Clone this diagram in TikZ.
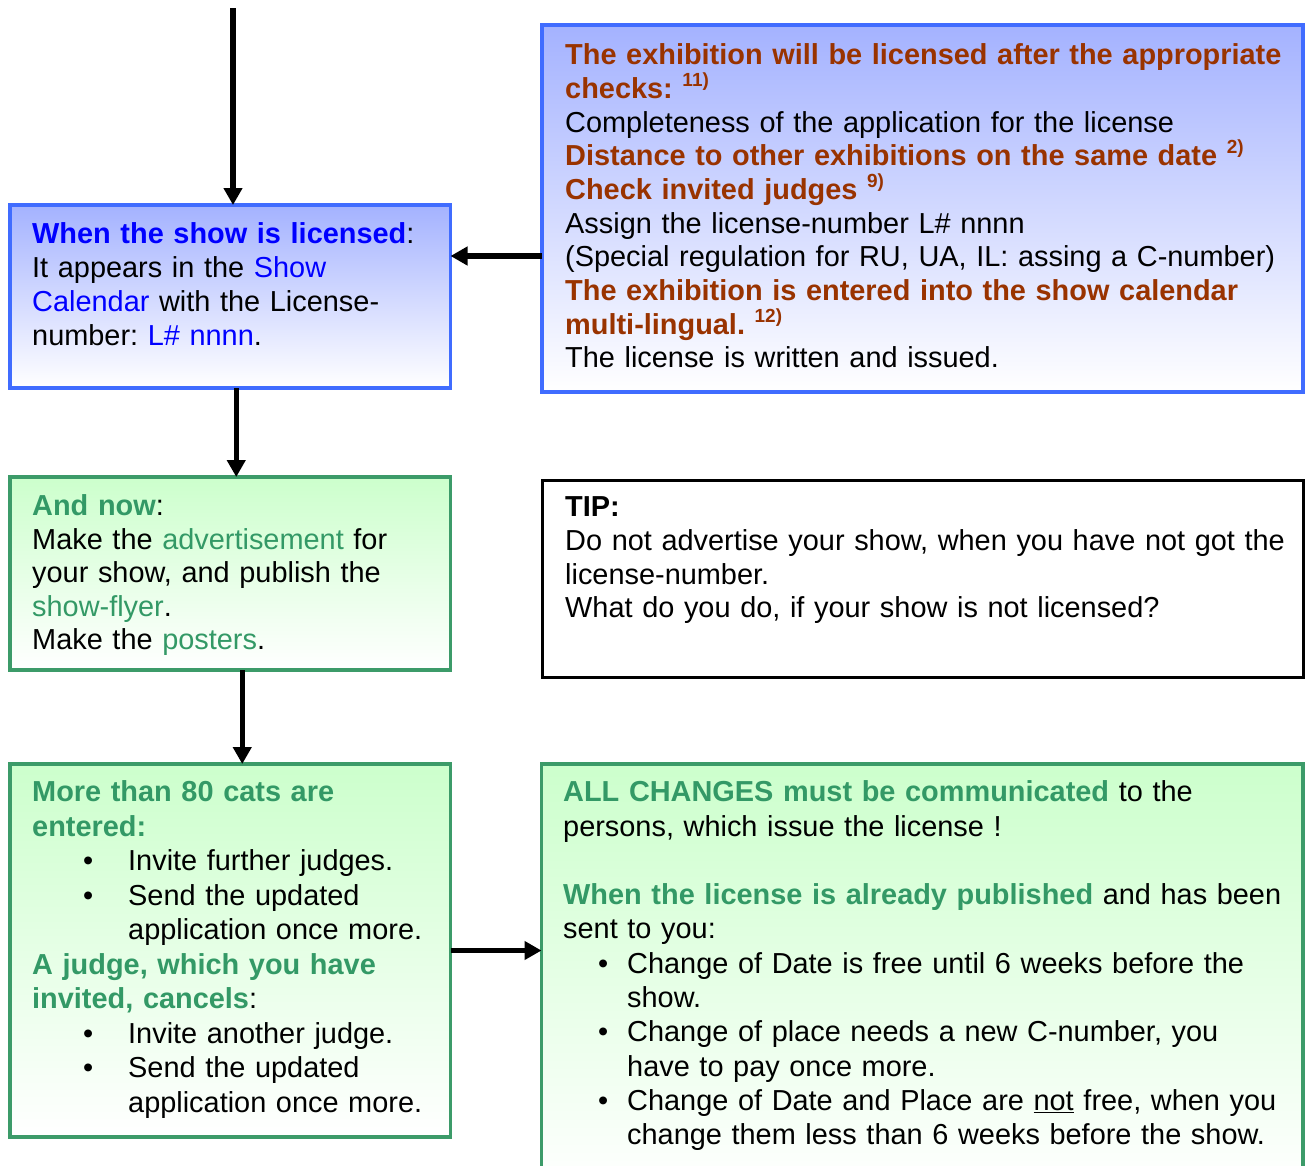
\documentclass[tikz,border=0pt]{standalone}
\usepackage{fontspec}
\setmainfont{Liberation Sans}
\usepackage{enumitem}
\usetikzlibrary{arrows.meta}
\definecolor{licblue}{RGB}{0,0,255}
\definecolor{boxblue}{RGB}{64,108,255}
\definecolor{topblue}{RGB}{164,178,255}
\definecolor{checkred}{RGB}{153,51,0}
\definecolor{showgreen}{RGB}{51,153,102}
\definecolor{boxgreen}{RGB}{60,155,105}
\definecolor{topgreen}{RGB}{204,255,204}
\setlength{\parindent}{0pt}
\frenchspacing
\newcommand{\flowfont}[1]{\fontsize{28.9}{#1}\selectfont}
\newcommand{\fnmark}[1]{\raisebox{12pt}[0pt][0pt]{\fontsize{19}{19}\selectfont\bfseries\color{checkred}#1}}

\begin{document}
\begin{tikzpicture}[x=1pt,y=-1pt,
		bluebox/.style={draw=boxblue,line width=3.5pt,top color=topblue,bottom color=white,anchor=north west,inner sep=0pt,outer sep=0pt},
		greenbox/.style={draw=boxgreen,line width=3.5pt,top color=topgreen,bottom color=white,anchor=north west,inner sep=0pt,outer sep=0pt},
		tipbox/.style={draw=black,line width=3pt,fill=white,anchor=north west,inner sep=0pt,outer sep=0pt},
		txt/.style={anchor=north west,inner sep=0pt,align=left,execute at begin node=\strut},
		arrowline/.style={line width=5.5pt,-{Triangle[length=17pt,width=18pt]}}]
			\useasboundingbox (0,0) rectangle (1306,1165);
			% boxes
			\node[bluebox,minimum width=440.5pt,minimum height=183pt] (licbox) at (10,205) {};
			\node[bluebox,minimum width=761pt,minimum height=367pt] (checkbox) at (542,25) {};
			\node[greenbox,minimum width=440.5pt,minimum height=193pt] (nowbox) at (10,477) {};
			\node[tipbox,minimum width=761pt,minimum height=197pt] (tipbox) at (542,480) {};
			\node[greenbox,minimum width=440.5pt,minimum height=373pt] (catsbox) at (10,764) {};
			\node[greenbox,minimum width=761.5pt,minimum height=426pt] (changebox) at (541.5,764) {};
			% texts
			\node[txt,text width=415pt,font=\flowfont{34}] (lictext) at (32,219.2) {\textcolor{licblue}{\textbf{When the show is licensed}}:\\
				It appears in the \textcolor{licblue}{Show}\\
				\textcolor{licblue}{Calendar} with the License-\\
				number: \textcolor{licblue}{L\# nnnn}.};
			\node[txt,text width=735pt,font=\flowfont{33.7}] (checktext) at (565,40.9) {\textcolor{checkred}{\textbf{The exhibition will be licensed after the appropriate}}\\
				\textcolor{checkred}{\textbf{checks:}} \fnmark{11)}\\
				Completeness of the application for the license\\
				\textcolor{checkred}{\textbf{Distance to other exhibitions on the same date}} \fnmark{2)}\\
				\textcolor{checkred}{\textbf{Check invited judges}} \fnmark{9)}\\
				Assign the license-number L\# nnnn\\
				(Special regulation for RU, UA, IL: assing a C-number)\\
				\textcolor{checkred}{\textbf{The exhibition is entered into the show calendar}}\\
				\textcolor{checkred}{\textbf{multi-lingual.}} \fnmark{12)}\\
				The license is written and issued.};
			\node[txt,text width=415pt,font=\flowfont{33.5}] (nowtext) at (32,492) {\textcolor{showgreen}{\textbf{And now}}:\\
				Make the \textcolor{showgreen}{advertisement} for\\
				your show, and publish the\\
				\textcolor{showgreen}{show-flyer}.\\
				Make the \textcolor{showgreen}{posters}.};
			\node[txt,text width=735pt,font=\flowfont{33.7}] (tiptext) at (565,493) {\textbf{TIP:}\\
				Do not advertise your show, when you have not got the\\
				license-number.\\
				What do you do, if your show is not licensed?};
			\node[txt,text width=415pt,font=\flowfont{34.5}] (catstext) at (32,777.5) {\textcolor{showgreen}{\textbf{More than 80 cats are}}\\
				\textcolor{showgreen}{\textbf{entered:}}
				\begin{itemize}[nosep,leftmargin=96pt,labelsep=35pt]
					\item Invite further judges.
					\item Send the updated\\ application once more.
				\end{itemize}
				\textcolor{showgreen}{\textbf{A judge, which you have}}\\
				\textcolor{showgreen}{\textbf{invited, cancels}}:
				\begin{itemize}[nosep,leftmargin=96pt,labelsep=35pt]
					\item Invite another judge.
					\item Send the updated\\ application once more.
				\end{itemize}};
			\node[txt,text width=735pt,font=\flowfont{34.3}] (changetext) at (563,777.5) {\textcolor{showgreen}{\textbf{ALL CHANGES must be communicated}} to the\\
				persons, which issue the license !\\[34.3pt]
				\textcolor{showgreen}{\textbf{When the license is already published}} and has been\\
				sent to you:
				\begin{itemize}[nosep,leftmargin=64pt,labelsep=19pt]
					\item Change of Date is free until 6 weeks before the\\ show.
					\item Change of place needs a new C-number, you\\ have to pay once more.
					\item Change of Date and Place are \underline{not} free, when you\\ change them less than 6 weeks before the show.
				\end{itemize}};
			% arrows
			\coordinate (start) at (233,8);
			\draw[arrowline] (start) -- (start |- licbox.north);
			\draw[arrowline] ([yshift=-47.5pt]checkbox.west) -- ([yshift=-47.5pt]checkbox.west -| licbox.east);
			\draw[arrowline] ([xshift=6pt]licbox.south) -- ([xshift=6pt]licbox.south |- nowbox.north);
			\draw[arrowline] ([xshift=12pt]nowbox.south) -- ([xshift=12pt]nowbox.south |- catsbox.north);
			\draw[arrowline] (catsbox.east) -- (catsbox.east -| changebox.west);
		\end{tikzpicture}
\end{document}
